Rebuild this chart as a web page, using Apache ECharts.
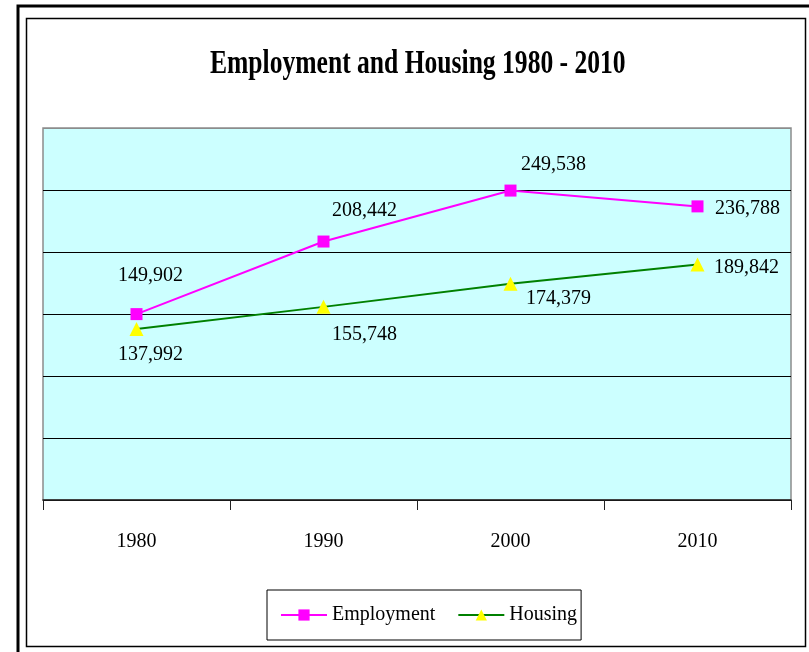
<!DOCTYPE html>
<html>
<head>
<meta charset="utf-8">
<style>
  html, body { margin: 0; padding: 0; background: #ffffff; }
  #chart { width: 809px; height: 652px; }
</style>
<script src="https://cdn.jsdelivr.net/npm/echarts@6/dist/echarts.min.js"></script>
</head>
<body>
<div id="chart"></div>
<script>
// Census years and counts
const years = ['1980', '1990', '2000', '2010'];
const employment = [149902, 208442, 249538, 236788];
const housing = [137992, 155748, 174379, 189842];
const yTicks = [0, 50000, 100000, 150000, 200000, 250000, 300000];
const chartTitle = 'Employment and Housing 1980 - 2010';

// Where each value label sits relative to its marker (pixels)
const employmentLabelOffsets = [[14, -38], [41, -31], [43, -26], [50, 2]];
const housingLabelOffsets = [[14, 26], [41, 28], [48, 15], [49, 3]];

const serif = '"Liberation Serif", "Times New Roman", serif';
const fmt = v => v.toLocaleString('en-US');

function withLabels(values, offsets) {
  return values.map((v, i) => ({
    value: v,
    label: { show: true, position: 'inside', offset: offsets[i] }
  }));
}

// gridlines are black, the top edge stays grey like the plot border
const splitColors = yTicks.map((t, i) => (i === yTicks.length - 1 ? '#8c8c8c' : '#000000'));

const chart = echarts.init(document.getElementById('chart'), null, { renderer: 'canvas' });

chart.setOption({
  animation: false,
  backgroundColor: '#ffffff',
  graphic: [
    // heavy outer frame line
    { type: 'polyline', silent: true, z: -1,
      shape: { points: [[18, 660], [18, 6], [820, 6]] },
      style: { stroke: '#000000', lineWidth: 3, fill: null } },
    // inner chart-area frame
    { type: 'rect', silent: true, z: -1,
      shape: { x: 26.5, y: 18.5, width: 779, height: 628 },
      style: { stroke: '#000000', lineWidth: 1.5, fill: null } },
    // narrow bold title
    { type: 'text', silent: true,
      x: 210, y: 64, scaleX: 0.775,
      style: {
        text: chartTitle,
        fontFamily: serif, fontWeight: 'bold', fontSize: 33,
        fill: '#000000', align: 'left', verticalAlign: 'middle'
      } }
  ],
  grid: {
    left: 43, right: 18, top: 128, bottom: 152,
    show: true,
    backgroundColor: '#CCFFFF',
    borderColor: '#8c8c8c',
    borderWidth: 1.5
  },
  legend: {
    left: 267, top: 590,
    width: 315, height: 50,
    orient: 'horizontal',
    backgroundColor: '#ffffff',
    borderColor: '#000000',
    borderWidth: 1,
    padding: [15, 4, 15, 13],
    itemGap: 22,
    itemWidth: 46,
    itemHeight: 14,
    lineStyle: { width: 2 },
    textStyle: { fontFamily: serif, fontSize: 20, color: '#000000' },
    data: ['Employment', 'Housing']
  },
  xAxis: {
    type: 'category',
    data: years,
    boundaryGap: true,
    axisLine: { lineStyle: { color: '#222222', width: 1.5 } },
    axisTick: { show: true, length: 10, lineStyle: { color: '#222222' } },
    axisLabel: { fontFamily: serif, fontSize: 20, color: '#000000', margin: 32 }
  },
  yAxis: {
    type: 'value',
    min: yTicks[0],
    max: yTicks[yTicks.length - 1],
    interval: yTicks[1] - yTicks[0],
    axisLine: { show: false },
    axisTick: { show: false },
    axisLabel: { show: false },
    splitLine: { show: true, lineStyle: { color: splitColors, width: 1 } }
  },
  series: [
    {
      name: 'Employment',
      type: 'line',
      data: withLabels(employment, employmentLabelOffsets),
      symbol: 'rect',
      symbolSize: 12,
      lineStyle: { color: '#FF00FF', width: 2 },
      itemStyle: { color: '#FF00FF' },
      label: { formatter: p => fmt(p.value), fontFamily: serif, fontSize: 20, color: '#000000' },
      z: 3
    },
    {
      name: 'Housing',
      type: 'line',
      data: withLabels(housing, housingLabelOffsets),
      symbol: 'triangle',
      symbolSize: 14,
      lineStyle: { color: '#008000', width: 2 },
      itemStyle: { color: '#FFFF00' },
      label: { formatter: p => fmt(p.value), fontFamily: serif, fontSize: 20, color: '#000000' },
      z: 2
    }
  ]
});
</script>
</body>
</html>
